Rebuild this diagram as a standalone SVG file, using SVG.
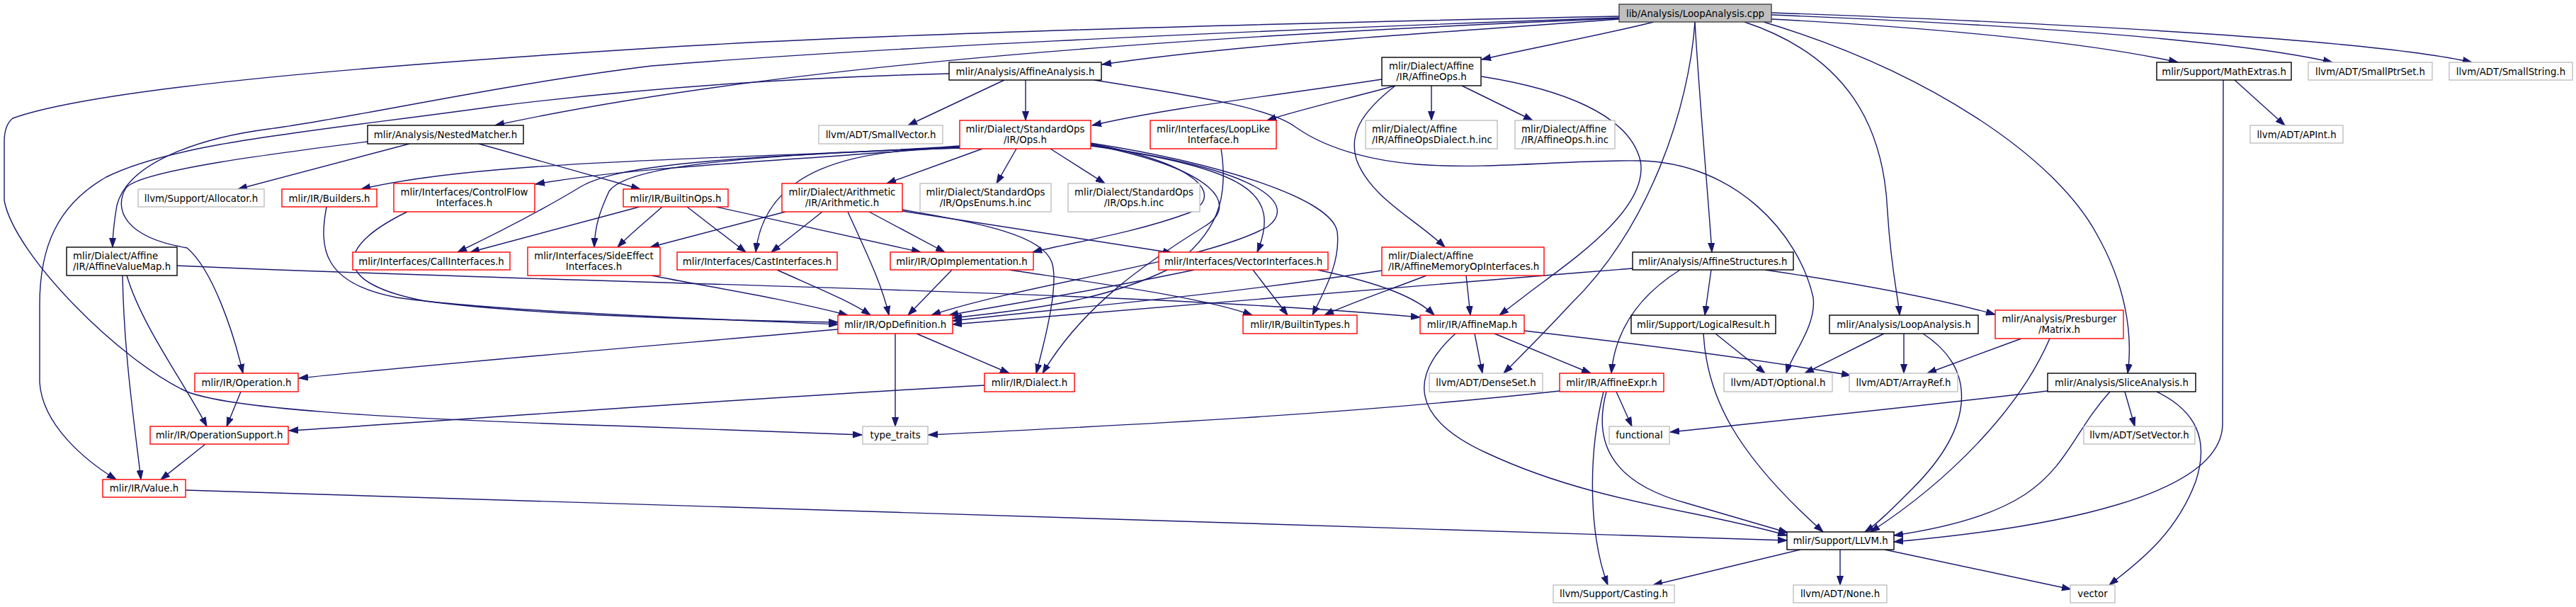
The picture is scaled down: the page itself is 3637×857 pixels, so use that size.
<svg xmlns="http://www.w3.org/2000/svg" width="3637" height="857" viewBox="0 0 3637 857">
<style>
.n rect{stroke-width:1.4;fill:#fff}
.root rect{fill:#bfbfbf;stroke:#404040}
.blk rect{stroke:#000}
.red rect{stroke:#ff0000}
.gry rect{stroke:#bfbfbf}
text{font-family:"DejaVu Sans","Liberation Sans",sans-serif;font-size:13.33px;fill:#000}
.c{text-anchor:middle}
#edges path{fill:none;stroke:#191970;stroke-width:1.4;marker-end:url(#a)}
</style>
<defs>
<marker id="a" markerUnits="userSpaceOnUse" markerWidth="14" markerHeight="10" viewBox="0 0 14 10" refX="13" refY="5" orient="auto">
<path d="M0,0.5 L13,5 L0,9.5 z" fill="#191970" stroke="#191970" stroke-width="1"/>
</marker>
</defs>
<rect width="3637" height="857" fill="#fff"/>
<g id="edges">
<path d="M2286,27 C2050,45 1750,62 1556,91"/>
<path d="M2335,31 C2260,50 2160,68 2092,84"/>
<path d="M2501,27 C2750,40 2960,62 3075,88"/>
<path d="M2501,21 C2850,35 3160,57 3293,88"/>
<path d="M2501,18 C2950,34 3360,58 3490,88"/>
<path d="M2286,26 C1700,50 1100,90 699,177"/>
<path d="M2286,23 C1700,35 1200,50 920,68 C600,88 150,120 18,167 C8,175 6,187 6,200 L6,283 C20,360 170,510 264,553 C320,575 500,590 920,603 L1217,614"/>
<path d="M2286,25 C1700,45 1200,70 920,93 C700,120 480,170 380,182 C280,195 180,230 165,290 C160,320 159,335 159,349"/>
<path d="M2393,31 C2385,150 2330,320 2217,430 C2180,470 2150,500 2123,527"/>
<path d="M2393,31 C2400,150 2412,280 2417,356"/>
<path d="M2463,31 C2610,80 2660,180 2665,300 C2670,380 2680,420 2682,445"/>
<path d="M2490,31 C2720,100 2900,220 2960,330 C3000,400 3012,470 3004,527"/>
<path d="M1418,113 L1282,177"/>
<path d="M1448,113 L1448,170"/>
<path d="M1545,113 C1680,135 1790,150 1830,180 C1880,215 1950,228 2000,232 C2100,240 2220,225 2316,227 C2450,230 2540,330 2560,420 C2565,460 2530,500 2522,527"/>
<path d="M1340,104 C1100,110 900,125 700,150 C450,185 250,200 150,250 C80,290 56,350 56,430 L56,540 C60,600 120,650 164,677"/>
<path d="M578,203 L336,267"/>
<path d="M676,203 L904,267"/>
<path d="M519,200 C400,215 200,240 178,265 C160,295 175,335 264,350 C300,380 330,470 343,527"/>
<path d="M1951,112 C1800,135 1650,152 1542,177"/>
<path d="M1970,121 C1900,140 1830,156 1789,170"/>
<path d="M2021,121 L2021,170"/>
<path d="M2064,121 L2164,170"/>
<path d="M1970,121 C1920,160 1905,190 1915,225 C1935,280 2000,310 2040,349"/>
<path d="M2092,108 C2200,125 2300,160 2316,227 C2330,300 2200,380 2150,420 L2117,445"/>
<path d="M3155,113 L3226,177"/>
<path d="M3139,113 L3138,600 C3135,700 2900,745 2674,765"/>
<path d="M1387,210 L1252,259"/>
<path d="M1435,210 L1407,259"/>
<path d="M1483,210 L1560,259"/>
<path d="M1355,209 C1200,210 1080,240 1067,356"/>
<path d="M1355,206 C1100,225 700,222 510,267"/>
<path d="M1355,207 C1100,228 900,235 756,260"/>
<path d="M1355,208 C1000,222 870,235 821,263 C760,300 700,330 646,356"/>
<path d="M1355,209 C1000,220 880,240 860,270 C846,300 840,320 839,349"/>
<path d="M1540,202 C1720,230 1880,280 1888,327 C1893,370 1870,410 1853,445"/>
<path d="M1540,203 C1690,230 1730,275 1680,300 C1600,330 1500,345 1458,356"/>
<path d="M1540,204 C1720,240 1750,290 1700,320 C1620,370 1530,430 1472,527"/>
<path d="M1540,205 C1760,240 1810,270 1775,356"/>
<path d="M1540,206 C1790,240 1830,290 1790,320 C1700,370 1450,400 1315,445"/>
<path d="M1724,210 C1735,280 1720,330 1650,380 C1550,430 1420,440 1345,449"/>
<path d="M461,292 C450,350 455,400 560,420 C700,440 1000,450 1183,458"/>
<path d="M575,299 C470,350 470,400 600,425 C750,445 1000,452 1183,455"/>
<path d="M903,292 L664,356"/>
<path d="M935,292 C915,310 890,330 872,349"/>
<path d="M970,292 L1053,356"/>
<path d="M1011,292 L1300,356"/>
<path d="M1109,299 L918,349"/>
<path d="M1161,299 L1089,356"/>
<path d="M1197,299 C1220,350 1245,400 1255,445"/>
<path d="M1227,299 L1334,356"/>
<path d="M1274,298 L1655,357"/>
<path d="M1274,296 C1380,315 1470,330 1485,370 C1495,400 1478,470 1463,527"/>
<path d="M920,389 C1000,405 1100,420 1197,445"/>
<path d="M1097,381 C1150,405 1200,425 1229,445"/>
<path d="M1344,381 L1282,445"/>
<path d="M1425,381 C1550,400 1700,420 1768,445"/>
<path d="M1686,381 C1550,410 1420,430 1340,445"/>
<path d="M1769,381 L1818,445"/>
<path d="M1860,381 C1950,400 2000,420 2025,445"/>
<path d="M1951,382 C1700,420 1500,435 1345,453"/>
<path d="M2014,389 C1960,410 1900,430 1870,445"/>
<path d="M2070,389 L2076,445"/>
<path d="M2305,379 C2000,403 1700,430 1345,458"/>
<path d="M2372,381 C2310,420 2280,470 2275,527"/>
<path d="M2416,381 L2407,445"/>
<path d="M2492,381 C2620,400 2730,420 2817,444"/>
<path d="M1183,465 C900,490 600,515 422,534"/>
<path d="M1294,471 L1425,527"/>
<path d="M1264,471 L1264,602"/>
<path d="M2082,471 L2093,527"/>
<path d="M2110,471 L2246,527"/>
<path d="M2152,467 C2350,490 2500,510 2613,530"/>
<path d="M2055,471 C1990,530 1990,590 2100,640 C2250,710 2400,720 2523,756"/>
<path d="M2422,471 L2492,527"/>
<path d="M2405,471 C2410,560 2450,640 2574,751"/>
<path d="M2660,471 L2548,527"/>
<path d="M2688,471 L2688,527"/>
<path d="M2715,471 C2790,520 2790,600 2700,690 C2670,720 2650,740 2633,751"/>
<path d="M2854,478 L2721,527"/>
<path d="M2894,478 C2850,580 2750,680 2641,751"/>
<path d="M340,553 L320,602"/>
<path d="M1390,544 C1000,565 700,590 408,608"/>
<path d="M2282,553 L2304,602"/>
<path d="M2268,553 C2250,620 2270,680 2380,710 C2450,730 2500,745 2524,752"/>
<path d="M2264,553 C2240,650 2245,760 2270,826"/>
<path d="M2202,552 C1900,585 1600,600 1311,614"/>
<path d="M2891,552 C2700,575 2500,595 2358,610"/>
<path d="M3000,553 L3014,602"/>
<path d="M3045,553 C3100,580 3120,620 3100,680 C3070,760 3010,800 2978,826"/>
<path d="M2979,553 C2900,640 2920,720 2674,756"/>
<path d="M290,627 L227,677"/>
<path d="M262,692 C1000,715 1800,740 2523,763"/>
<path d="M173,389 C175,500 190,600 199,677"/>
<path d="M179,389 C200,460 260,540 292,602"/>
<path d="M250,375 C800,400 1600,410 2005,448"/>
<path d="M2542,776 L2334,826"/>
<path d="M2598,776 L2598,826"/>
<path d="M2661,776 L2924,832"/>
</g>
<g id="n0" class="n root"><rect x="2286" y="6" width="215" height="25"/><text class="c" x="2393.5" y="23.5">lib/Analysis/LoopAnalysis.cpp</text></g>
<g id="n1" class="n blk"><rect x="1340" y="88" width="215" height="25"/><text class="c" x="1447.5" y="105.5">mlir/Analysis/AffineAnalysis.h</text></g>
<g id="n2" class="n blk"><rect x="1951" y="81" width="140" height="40"/><text class="c" x="2021" y="98">mlir/Dialect/Affine</text><text class="c" x="2021" y="113">/IR/AffineOps.h</text></g>
<g id="n3" class="n blk"><rect x="3045" y="88" width="190" height="25"/><text class="c" x="3140" y="105.5">mlir/Support/MathExtras.h</text></g>
<g id="n4" class="n gry"><rect x="3259" y="88" width="175" height="25"/><text class="c" x="3346.5" y="105.5">llvm/ADT/SmallPtrSet.h</text></g>
<g id="n5" class="n gry"><rect x="3458" y="88" width="174" height="25"/><text class="c" x="3545" y="105.5">llvm/ADT/SmallString.h</text></g>
<g id="n6" class="n blk"><rect x="519" y="177" width="220" height="26"/><text class="c" x="629" y="194.5">mlir/Analysis/NestedMatcher.h</text></g>
<g id="n7" class="n gry"><rect x="1156" y="177" width="175" height="26"/><text class="c" x="1243.5" y="194.5">llvm/ADT/SmallVector.h</text></g>
<g id="n8" class="n red"><rect x="1355" y="170" width="185" height="40"/><text class="c" x="1447.5" y="187">mlir/Dialect/StandardOps</text><text class="c" x="1447.5" y="202">/IR/Ops.h</text></g>
<g id="n9" class="n red"><rect x="1624" y="170" width="178" height="40"/><text class="c" x="1713" y="187">mlir/Interfaces/LoopLike</text><text class="c" x="1713" y="202">Interface.h</text></g>
<g id="n10" class="n gry"><rect x="1928" y="170" width="186" height="40"/><text x="1937" y="187">mlir/Dialect/Affine</text><text x="1937" y="202">/IR/AffineOpsDialect.h.inc</text></g>
<g id="n11" class="n gry"><rect x="2139" y="170" width="141" height="40"/><text x="2148" y="187">mlir/Dialect/Affine</text><text x="2148" y="202">/IR/AffineOps.h.inc</text></g>
<g id="n12" class="n gry"><rect x="3177" y="177" width="131" height="25"/><text class="c" x="3242.5" y="194.5">llvm/ADT/APInt.h</text></g>
<g id="n13" class="n gry"><rect x="195" y="267" width="178" height="25"/><text class="c" x="284" y="284.5">llvm/Support/Allocator.h</text></g>
<g id="n14" class="n red"><rect x="398" y="267" width="134" height="25"/><text class="c" x="465" y="284.5">mlir/IR/Builders.h</text></g>
<g id="n15" class="n red"><rect x="556" y="259" width="199" height="40"/><text class="c" x="655.5" y="276">mlir/Interfaces/ControlFlow</text><text class="c" x="655.5" y="291">Interfaces.h</text></g>
<g id="n16" class="n red"><rect x="880" y="267" width="148" height="25"/><text class="c" x="954" y="284.5">mlir/IR/BuiltinOps.h</text></g>
<g id="n17" class="n red"><rect x="1104" y="259" width="170" height="40"/><text class="c" x="1189" y="276">mlir/Dialect/Arithmetic</text><text class="c" x="1189" y="291">/IR/Arithmetic.h</text></g>
<g id="n18" class="n gry"><rect x="1299" y="259" width="185" height="40"/><text class="c" x="1391.5" y="276">mlir/Dialect/StandardOps</text><text class="c" x="1391.5" y="291">/IR/OpsEnums.h.inc</text></g>
<g id="n19" class="n gry"><rect x="1508" y="259" width="186" height="40"/><text class="c" x="1601" y="276">mlir/Dialect/StandardOps</text><text class="c" x="1601" y="291">/IR/Ops.h.inc</text></g>
<g id="n20" class="n blk"><rect x="94" y="349" width="156" height="40"/><text x="103" y="366">mlir/Dialect/Affine</text><text x="103" y="381">/IR/AffineValueMap.h</text></g>
<g id="n21" class="n red"><rect x="498" y="356" width="222" height="25"/><text class="c" x="609" y="373.5">mlir/Interfaces/CallInterfaces.h</text></g>
<g id="n22" class="n red"><rect x="745" y="349" width="187" height="40"/><text class="c" x="838.5" y="366">mlir/Interfaces/SideEffect</text><text class="c" x="838.5" y="381">Interfaces.h</text></g>
<g id="n23" class="n red"><rect x="956" y="356" width="226" height="25"/><text class="c" x="1069" y="373.5">mlir/Interfaces/CastInterfaces.h</text></g>
<g id="n24" class="n red"><rect x="1257" y="356" width="202" height="25"/><text class="c" x="1358" y="373.5">mlir/IR/OpImplementation.h</text></g>
<g id="n25" class="n red"><rect x="1636" y="356" width="239" height="25"/><text class="c" x="1755.5" y="373.5">mlir/Interfaces/VectorInterfaces.h</text></g>
<g id="n26" class="n red"><rect x="1951" y="349" width="229" height="40"/><text x="1960" y="366">mlir/Dialect/Affine</text><text x="1960" y="381">/IR/AffineMemoryOpInterfaces.h</text></g>
<g id="n27" class="n blk"><rect x="2305" y="356" width="227" height="25"/><text class="c" x="2418.5" y="373.5">mlir/Analysis/AffineStructures.h</text></g>
<g id="n28" class="n red"><rect x="1183" y="445" width="162" height="26"/><text class="c" x="1264" y="462.5">mlir/IR/OpDefinition.h</text></g>
<g id="n29" class="n red"><rect x="1755" y="445" width="161" height="26"/><text class="c" x="1835.5" y="462.5">mlir/IR/BuiltinTypes.h</text></g>
<g id="n30" class="n red"><rect x="2005" y="445" width="147" height="26"/><text class="c" x="2078.5" y="462.5">mlir/IR/AffineMap.h</text></g>
<g id="n31" class="n blk"><rect x="2303" y="445" width="204" height="26"/><text class="c" x="2405" y="462.5">mlir/Support/LogicalResult.h</text></g>
<g id="n32" class="n blk"><rect x="2583" y="445" width="210" height="26"/><text class="c" x="2688" y="462.5">mlir/Analysis/LoopAnalysis.h</text></g>
<g id="n33" class="n red"><rect x="2817" y="438" width="181" height="40"/><text class="c" x="2907.5" y="455">mlir/Analysis/Presburger</text><text class="c" x="2907.5" y="470">/Matrix.h</text></g>
<g id="n34" class="n red"><rect x="275" y="527" width="146" height="26"/><text class="c" x="348" y="544.5">mlir/IR/Operation.h</text></g>
<g id="n35" class="n red"><rect x="1390" y="527" width="127" height="26"/><text class="c" x="1453.5" y="544.5">mlir/IR/Dialect.h</text></g>
<g id="n36" class="n gry"><rect x="2018" y="527" width="160" height="26"/><text class="c" x="2098" y="544.5">llvm/ADT/DenseSet.h</text></g>
<g id="n37" class="n red"><rect x="2202" y="527" width="147" height="26"/><text class="c" x="2275.5" y="544.5">mlir/IR/AffineExpr.h</text></g>
<g id="n38" class="n gry"><rect x="2434" y="527" width="153" height="26"/><text class="c" x="2510.5" y="544.5">llvm/ADT/Optional.h</text></g>
<g id="n39" class="n gry"><rect x="2611" y="527" width="153" height="26"/><text class="c" x="2687.5" y="544.5">llvm/ADT/ArrayRef.h</text></g>
<g id="n40" class="n blk"><rect x="2891" y="527" width="209" height="26"/><text class="c" x="2995.5" y="544.5">mlir/Analysis/SliceAnalysis.h</text></g>
<g id="n41" class="n red"><rect x="212" y="602" width="195" height="25"/><text class="c" x="309.5" y="619">mlir/IR/OperationSupport.h</text></g>
<g id="n42" class="n gry"><rect x="1218" y="602" width="92" height="25"/><text class="c" x="1264" y="619">type_traits</text></g>
<g id="n43" class="n gry"><rect x="2272" y="602" width="85" height="25"/><text class="c" x="2314.5" y="619">functional</text></g>
<g id="n44" class="n gry"><rect x="2942" y="602" width="157" height="25"/><text class="c" x="3020.5" y="619">llvm/ADT/SetVector.h</text></g>
<g id="n45" class="n red"><rect x="145" y="677" width="117" height="25"/><text class="c" x="203.5" y="694">mlir/IR/Value.h</text></g>
<g id="n46" class="n blk"><rect x="2523" y="751" width="151" height="25"/><text class="c" x="2598.5" y="768">mlir/Support/LLVM.h</text></g>
<g id="n47" class="n gry"><rect x="2193" y="826" width="171" height="25"/><text class="c" x="2278.5" y="843">llvm/Support/Casting.h</text></g>
<g id="n48" class="n gry"><rect x="2532" y="826" width="132" height="25"/><text class="c" x="2598" y="843">llvm/ADT/None.h</text></g>
<g id="n49" class="n gry"><rect x="2923" y="826" width="63" height="25"/><text class="c" x="2954.5" y="843">vector</text></g>
</svg>
